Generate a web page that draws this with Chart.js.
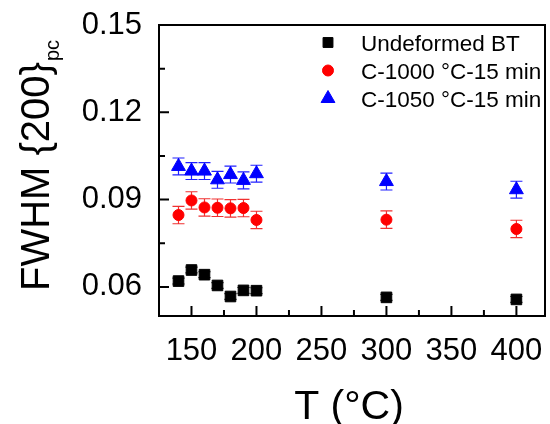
<!DOCTYPE html>
<html>
<head>
<meta charset="utf-8">
<script src="https://cdn.jsdelivr.net/npm/chart.js@4.4.1/dist/chart.umd.min.js"></script>
<style>
  html, body { margin: 0; padding: 0; background: #fff; }
  #wrap { width: 550px; height: 424px; }
</style>
</head>
<body>
<div id="wrap"><canvas id="fwhmChart" width="550" height="424"></canvas></div>
<script>
// Temperatures (°C)
const temps = [140, 150, 160, 170, 180, 190, 200, 300, 400];

// FWHM {200}pc and error for each sample
const fwhmUndeformed = [0.0620, 0.0658, 0.0642, 0.0605, 0.0567, 0.0588, 0.0587, 0.0564, 0.0557];
const errUndeformed  = [0.0010, 0.0010, 0.0010, 0.0010, 0.0010, 0.0010, 0.0010, 0.0010, 0.0010];
const fwhmC1000 = [0.0847, 0.0897, 0.0873, 0.0872, 0.0870, 0.0871, 0.0830, 0.0831, 0.0799];
const errC1000  = [0.0030, 0.0030, 0.0030, 0.0030, 0.0030, 0.0030, 0.0030, 0.0030, 0.0030];
const fwhmC1050 = [0.1014, 0.0998, 0.0998, 0.0968, 0.0986, 0.0966, 0.0989, 0.0962, 0.0934];
const errC1050  = [0.0029, 0.0029, 0.0029, 0.0029, 0.0029, 0.0029, 0.0029, 0.0029, 0.0029];

const seriesNames = ['Undeformed BT', 'C-1000 °C-15 min', 'C-1050 °C-15 min'];

// Axis ticks
const xTicks = [150, 200, 250, 300, 350, 400];
const xMinor = [175, 225, 275, 325, 375];
const yTicks = [0.06, 0.09, 0.12, 0.15];
const yMinor = [0.075, 0.105, 0.135];

const FONT = "'Liberation Sans', Arial, sans-serif";

function points(ys, errs) {
    return temps.map((t, i) => ({ x: t, y: ys[i], err: errs[i] }));
}

function drawMarker(ctx, style, radius, x, y, color) {
    ctx.save();
    ctx.fillStyle = color;
    ctx.strokeStyle = color;
    ctx.lineWidth = 1;
    Chart.helpers.drawPoint(ctx, { pointStyle: style, radius: radius, rotation: 0, borderWidth: 1 }, x, y);
    ctx.restore();
}

// keep the plot box fixed: no extra room for edge labels
function noEdgePadding(scale) {
    scale.paddingTop = 0;
    scale.paddingBottom = 0;
    scale.paddingLeft = 0;
    scale.paddingRight = 0;
}

const decorations = {
    id: 'decorations',
    beforeDatasetsDraw(chart) {
        // error bars under the markers
        const ctx = chart.ctx;
        const xs = chart.scales.x, ys = chart.scales.y;
        chart.data.datasets.forEach(ds => {
            ctx.save();
            ctx.strokeStyle = ds.errColor;
            ctx.lineWidth = 1.2;
            ds.data.forEach(p => {
                const px = xs.getPixelForValue(p.x);
                const top = ys.getPixelForValue(p.y + p.err);
                const bot = ys.getPixelForValue(p.y - p.err);
                ctx.beginPath();
                ctx.moveTo(px, top); ctx.lineTo(px, bot);
                ctx.moveTo(px - 6, top); ctx.lineTo(px + 6, top);
                ctx.moveTo(px - 6, bot); ctx.lineTo(px + 6, bot);
                ctx.stroke();
            });
            ctx.restore();
        });
    },
    afterDraw(chart) {
        const ctx = chart.ctx;
        const a = chart.chartArea;
        const xs = chart.scales.x, ys = chart.scales.y;
        ctx.save();

        // frame
        ctx.strokeStyle = '#000';
        ctx.lineWidth = 2;
        ctx.strokeRect(a.left, a.top, a.right - a.left, a.bottom - a.top);

        // inward ticks on bottom and left
        ctx.beginPath();
        xTicks.forEach(v => { const p = xs.getPixelForValue(v); ctx.moveTo(p, a.bottom); ctx.lineTo(p, a.bottom - 10); });
        xMinor.forEach(v => { const p = xs.getPixelForValue(v); ctx.moveTo(p, a.bottom); ctx.lineTo(p, a.bottom - 6); });
        yTicks.forEach(v => { const p = ys.getPixelForValue(v); ctx.moveTo(a.left, p); ctx.lineTo(a.left + 10, p); });
        yMinor.forEach(v => { const p = ys.getPixelForValue(v); ctx.moveTo(a.left, p); ctx.lineTo(a.left + 6, p); });
        ctx.stroke();

        // x title
        ctx.fillStyle = '#000';
        ctx.font = '41px ' + FONT;
        ctx.textAlign = 'center';
        ctx.textBaseline = 'alphabetic';
        ctx.fillText('T (°C)', 349, 419);

        // y title with subscript
        ctx.save();
        ctx.translate(49, 291);
        ctx.rotate(-Math.PI / 2);
        ctx.textAlign = 'left';
        ctx.font = '40px ' + FONT;
        const main = 'FWHM {200}';
        ctx.fillText(main, 0, 0);
        const w = ctx.measureText(main).width;
        ctx.font = '20px ' + FONT;
        ctx.fillText('pc', w + 1, 10);
        ctx.restore();

        // legend
        ctx.font = '22.5px ' + FONT;
        ctx.textAlign = 'left';
        chart.data.datasets.forEach((ds, i) => {
            const cy = 42.5 + i * 28;
            drawMarker(ctx, ds.pointStyle, ds.legendRadius, 328, cy, ds.backgroundColor);
            ctx.fillStyle = '#000';
            ctx.fillText(seriesNames[i], 361, cy + 8);
        });

        ctx.restore();
    }
};

new Chart(document.getElementById('fwhmChart').getContext('2d'), {
    type: 'scatter',
    data: {
        datasets: [
            {
                label: seriesNames[0],
                data: points(fwhmUndeformed, errUndeformed),
                pointStyle: 'rect', pointRadius: 7.5, legendRadius: 7,
                backgroundColor: '#000000', borderColor: '#000000', borderWidth: 1,
                errColor: '#000000'
            },
            {
                label: seriesNames[1],
                data: points(fwhmC1000, errC1000),
                pointStyle: 'circle', pointRadius: 5.5, legendRadius: 5.5,
                backgroundColor: '#ff0000', borderColor: '#ff0000', borderWidth: 1,
                errColor: '#f03030'
            },
            {
                label: seriesNames[2],
                data: points(fwhmC1050, errC1050),
                pointStyle: 'triangle', pointRadius: 8, legendRadius: 8,
                backgroundColor: '#0000ff', borderColor: '#0000ff', borderWidth: 1,
                errColor: '#2020ff'
            }
        ]
    },
    options: {
        responsive: false,
        animation: false,
        layout: { autoPadding: false, padding: { top: 25, right: 5, bottom: 0, left: 0 } },
        plugins: {
            legend: { display: false },
            tooltip: { enabled: false }
        },
        scales: {
            x: {
                type: 'linear',
                min: 125, max: 422,
                afterBuildTicks: scale => { scale.ticks = xTicks.map(v => ({ value: v })); },
                afterFit: scale => { scale.height = 108; noEdgePadding(scale); },
                // invisible tick marks only push the labels down
                grid: { display: true, drawOnChartArea: false, drawTicks: true, tickLength: 17, color: 'rgba(0,0,0,0)' },
                border: { display: false },
                ticks: {
                    color: '#000', padding: 0, maxRotation: 0, autoSkip: false,
                    font: { family: FONT, size: 31 }
                }
            },
            y: {
                type: 'linear',
                min: 0.05, max: 0.15,
                afterBuildTicks: scale => { scale.ticks = yTicks.map(v => ({ value: v })); },
                afterFit: scale => { scale.width = 159; noEdgePadding(scale); },
                grid: { display: false, drawTicks: false },
                border: { display: false },
                ticks: {
                    color: '#000', padding: 17, autoSkip: false,
                    font: { family: FONT, size: 31 },
                    callback: v => v.toFixed(2)
                }
            }
        }
    },
    plugins: [decorations]
});
</script>
</body>
</html>
